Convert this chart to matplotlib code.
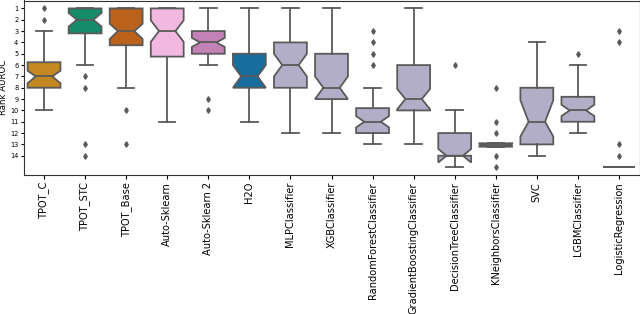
import colorsys
import matplotlib
matplotlib.use("Agg")
import matplotlib.pyplot as plt
import matplotlib.colors as mcolors

# model names
models = ["TPOT_C", "TPOT_STC", "TPOT_Base", "Auto-Sklearn", "Auto-Sklearn 2", "H2O",
          "MLPClassifier", "XGBClassifier", "RandomForestClassifier",
          "GradientBoostingClassifier", "DecisionTreeClassifier",
          "KNeighborsClassifier", "SVC", "LGBMClassifier", "LogisticRegression"]

# box statistics (rank, 1 = best)
q1 = [5.75, 1, 1, 1, 3, 5, 4, 5, 9.8, 6, 12, 12.9, 8, 8.8, 15]
med = [7, 2, 3, 3, 4, 7, 6, 8, 11, 9, 14, 13.05, 11, 10, 15]
q3 = [8, 3.2, 4.25, 5.25, 5, 8, 8, 9, 12, 10, 14, 13.2, 13, 11, 15]
whislo = [3, 1, 1, 1, 1, 1, 1, 1, 8, 1, 10, 12.9, 4, 6, 15]
whishi = [10, 6, 8, 11, 6, 11, 12, 12, 13, 13, 15, 13.2, 14, 12, 15]
cilo = [6.5, 1.4, 2.35, 2.05, 3.6, 6.0, 5.0, 7.0, 10.5, 8.1, 13.4, 12.95, 9.1, 9.5, 15]
cihi = [7.6, 2.6, 3.7, 3.95, 4.4, 8.0, 7.0, 9.0, 11.5, 9.9, 14.6, 13.15, 12.3, 10.5, 15]
fliers = [[1, 2], [7, 8, 13, 14], [10, 13], [], [9, 10], [], [], [],
          [3, 4, 5, 6], [], [6], [8, 11, 12, 14, 15], [], [5], [3, 4, 13, 14]]

base_colors = ["#de8f05", "#029e73", "#d55e00", "#fbafe4", "#cc78bc", "#0173b2"]
other_color = "#b3aec8"


def desat(c, prop=0.75):
    r, g, b = mcolors.to_rgb(c)
    h, l, s = colorsys.rgb_to_hls(r, g, b)
    return colorsys.hls_to_rgb(h, l, s * prop)


colors = [desat(c) for c in base_colors] + [other_color] * (len(models) - len(base_colors))

stats = []
for i in range(len(models)):
    stats.append(dict(med=med[i], q1=q1[i], q3=q3[i], whislo=whislo[i], whishi=whishi[i],
                      cilo=cilo[i], cihi=cihi[i], fliers=fliers[i]))

fig = plt.figure(figsize=(6.4, 3.14), dpi=100)
ax = fig.add_axes([23.5 / 640, 1 - 175 / 314, 616 / 640, 174.5 / 314])

lc = "#5a5a5a"
bp = ax.bxp(stats, positions=range(len(models)), widths=0.8, shownotches=True,
            patch_artist=True,
            boxprops=dict(edgecolor=lc, linewidth=1.3),
            medianprops=dict(color=lc, linewidth=1.3),
            whiskerprops=dict(color=lc, linewidth=1.3),
            capprops=dict(color=lc, linewidth=1.3),
            flierprops=dict(marker="d", markersize=2.8, markerfacecolor=lc,
                            markeredgecolor=lc, linestyle="none"))
for patch, c in zip(bp["boxes"], colors):
    patch.set_facecolor(c)

ax.set_xlim(-0.5, len(models) - 0.5)
ax.set_ylim(15.7, 0.3)
ax.set_yticks(range(1, 15))
ax.tick_params(axis="y", labelsize=4.8, length=2.5, pad=1.2)
ax.set_xticks(range(len(models)))
ax.set_xticklabels(models, rotation=90, fontsize=7.1)
ax.tick_params(axis="x", length=3, pad=2)
ax.set_ylabel("Rank AUROC", fontsize=6.2)
ax.yaxis.set_label_coords(-15 / 616, 0.5)
for s in ax.spines.values():
    s.set_color("#333333")

fig.savefig("out.png", dpi=100)
